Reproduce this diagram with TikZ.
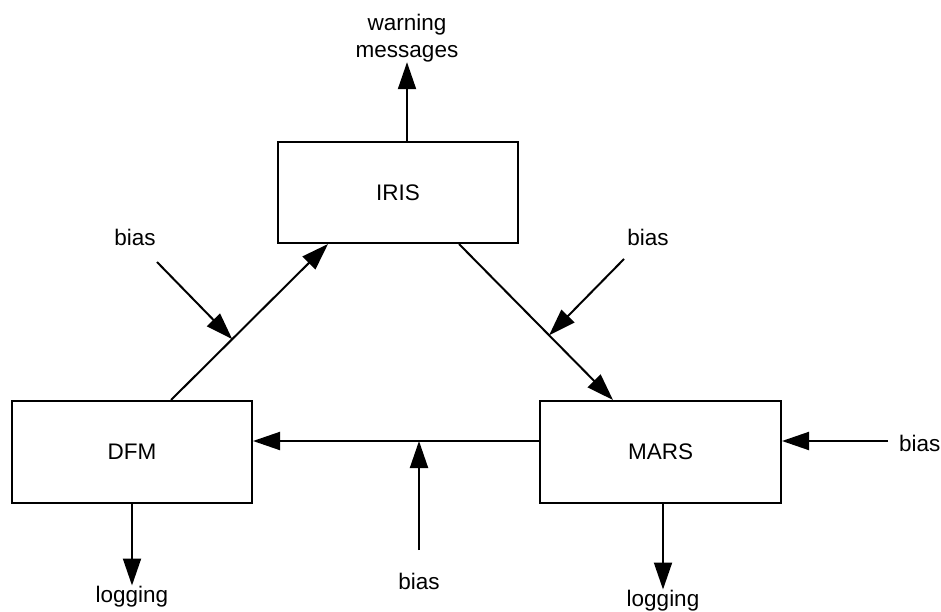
\documentclass[tikz,border=0pt]{standalone}
\usepackage{fontspec}
\setmainfont{Liberation Sans}
\usetikzlibrary{arrows.meta,calc}
\begin{document}
\begin{tikzpicture}[x=1pt,y=-1pt,
  txt/.style={font=\fontsize{22.5}{27}\selectfont},
  box/.style={draw, line width=2pt, minimum width=240pt, minimum height=101pt, inner sep=0pt, txt},
  lbl/.style={inner sep=0pt, txt},
  arr/.style={line width=2pt, -{Triangle[length=27pt,width=18pt]}}]
\useasboundingbox (0,0) rectangle (941,612);
% boxes
\node[box] (iris) at (398,192.5) {IRIS};
\node[box, minimum height=102pt] (dfm) at (132,452) {DFM};
\node[box, minimum width=241pt, minimum height=102pt] (mars) at (660.5,452) {MARS};
% labels
\node[lbl, align=center] (warn) at (407,38) {warning\\messages};
\node[lbl, anchor=base] (biasA) at (135,245) {bias};
\node[lbl, anchor=base] (biasB) at (648,245) {bias};
\node[lbl, anchor=base] (biasC) at (419,589) {bias};
\node[lbl, anchor=base west] (biasD) at (899,451) {bias};
\node[lbl, anchor=base] (logL) at (132,602) {logging};
\node[lbl, anchor=base] (logR) at (663,606) {logging};
% connector points
\coordinate (irisTop) at ($(iris.north)+(9,0)$);
\coordinate (irisOut) at ($(iris.south west)+(182,0)$);
\coordinate (marsIn) at ($(mars.north west)+(74,0)$);
\coordinate (dfmOut) at ($(dfm.north west)+(160,0)$);
\coordinate (irisIn) at ($(iris.south west)+(51,0)$);
\coordinate (marsLeft) at ($(mars.west)+(0,-11)$);
\coordinate (dfmRight) at ($(dfm.east)+(0,-11)$);
\coordinate (marsRight) at ($(mars.east)+(0,-11)$);
\coordinate (marsBot) at ($(mars.south)+(2.5,0)$);
\coordinate (biasAstart) at (157,262);
\coordinate (biasBstart) at (624,259);
\coordinate (biasCstart) at (419,550);
\coordinate (biasDstart) at (888,441);
\coordinate (tipA) at ($(dfmOut)!0.39!(irisIn)$);
\coordinate (tipB) at ($(irisOut)!0.585!(marsIn)$);
\coordinate (tipC) at (biasCstart |- marsLeft);
% connectors
\draw[arr] (irisTop) -- (warn);
\draw[arr] (irisOut) -- (marsIn);
\draw[arr] (dfmOut) -- (irisIn);
\draw[arr] (marsLeft) -- (dfmRight);
\draw[arr] (dfm) -- (logL);
\draw[arr] (marsBot) -- (logR.north);
\draw[arr] (biasAstart) -- (tipA);
\draw[arr] (biasBstart) -- (tipB);
\draw[arr] (biasCstart) -- (tipC);
\draw[arr] (biasDstart) -- (marsRight);
\end{tikzpicture}
\end{document}
